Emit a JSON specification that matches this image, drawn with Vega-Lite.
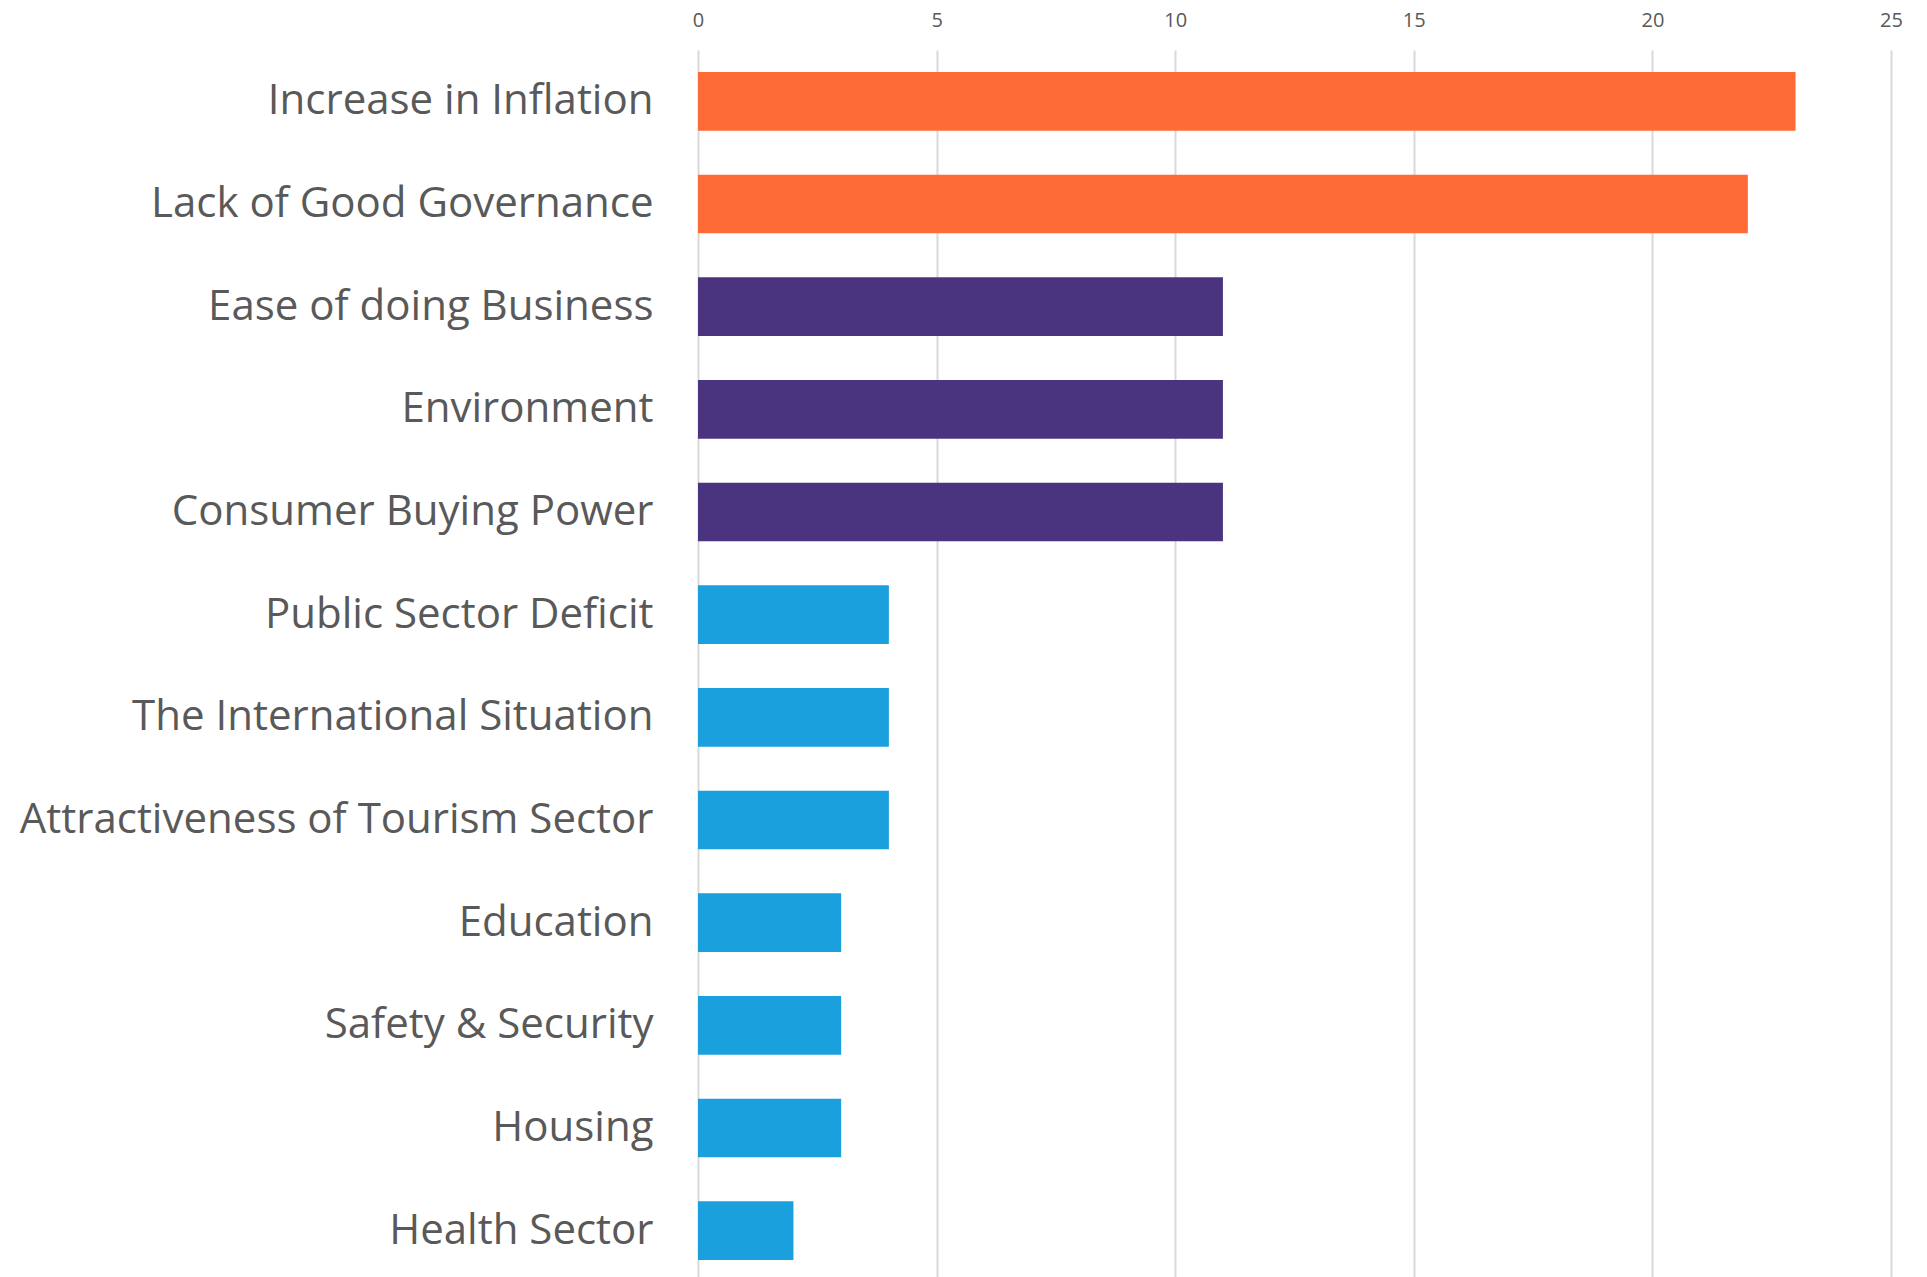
{
  "$schema": "https://vega.github.io/schema/vega-lite/v6.json",
  "width": 1193,
  "height": 1232,
  "autosize": {"type": "none"},
  "padding": {"left": 698, "top": 50, "right": 36, "bottom": 0},
  "background": "#ffffff",
  "data": {
    "values": [
      {"issue": "Increase in Inflation", "value": 23, "group": "high"},
      {"issue": "Lack of Good Governance", "value": 22, "group": "high"},
      {"issue": "Ease of doing Business", "value": 11, "group": "mid"},
      {"issue": "Environment", "value": 11, "group": "mid"},
      {"issue": "Consumer Buying Power", "value": 11, "group": "mid"},
      {"issue": "Public Sector Deficit", "value": 4, "group": "low"},
      {"issue": "The International Situation", "value": 4, "group": "low"},
      {"issue": "Attractiveness of Tourism Sector", "value": 4, "group": "low"},
      {"issue": "Education", "value": 3, "group": "low"},
      {"issue": "Safety & Security", "value": 3, "group": "low"},
      {"issue": "Housing", "value": 3, "group": "low"},
      {"issue": "Health Sector", "value": 2, "group": "low"}
    ]
  },
  "mark": {"type": "bar"},
  "encoding": {
    "y": {
      "field": "issue",
      "type": "nominal",
      "sort": null,
      "scale": {"paddingInner": 0.428, "paddingOuter": 0.214},
      "axis": {
        "title": null,
        "domain": false,
        "ticks": false,
        "grid": false,
        "labelFont": "Open Sans",
        "labelFontSize": 42,
        "labelColor": "#595959",
        "labelPadding": 45,
        "labelLimit": 0
      }
    },
    "x": {
      "field": "value",
      "type": "quantitative",
      "scale": {"domain": [0, 25], "nice": false},
      "axis": {
        "orient": "top",
        "title": null,
        "values": [0, 5, 10, 15, 20, 25],
        "domain": false,
        "ticks": false,
        "grid": true,
        "gridColor": "#D9D9D9",
        "gridWidth": 2,
        "labelFlush": false,
        "labelFont": "Open Sans",
        "labelFontSize": 20,
        "labelColor": "#595959",
        "labelPadding": 20
      }
    },
    "color": {
      "field": "group",
      "type": "nominal",
      "scale": {"domain": ["high", "mid", "low"], "range": ["#FF6B37", "#4B347F", "#1BA0DE"]},
      "legend": null
    }
  },
  "config": {"view": {"stroke": null}}
}
